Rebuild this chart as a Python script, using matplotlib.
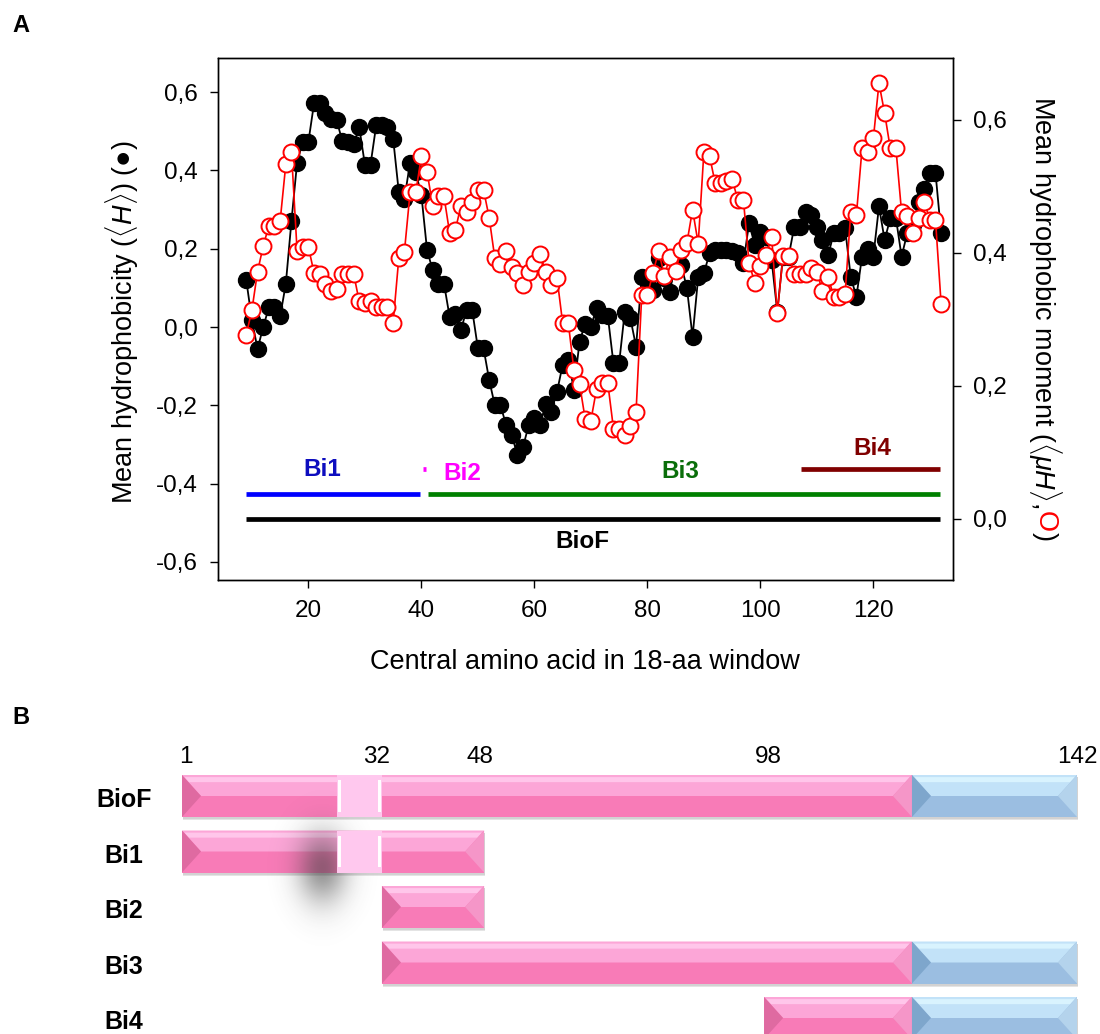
import numpy as np
import matplotlib
matplotlib.use("Agg")
import matplotlib.pyplot as plt
from matplotlib.patches import Polygon, Rectangle

plt.rcParams['font.family'] = ['Liberation Sans', 'DejaVu Sans']
plt.rcParams['mathtext.fontset'] = 'custom'
plt.rcParams['mathtext.rm'] = 'Liberation Sans'
plt.rcParams['mathtext.it'] = 'Liberation Sans:italic'
plt.rcParams['mathtext.bf'] = 'Liberation Sans:bold'

# ---------------- data: panel A ----------------
window_center = np.arange(9, 133)
hydrophobicity = [
    0.12, 0.018, -0.056, 0.0, 0.05, 0.05, 0.027, 0.11, 0.27, 0.42,
    0.473, 0.473, 0.571, 0.571, 0.547, 0.53, 0.528, 0.475, 0.473, 0.467,
    0.51, 0.415, 0.415, 0.515, 0.516, 0.512, 0.481, 0.345, 0.328, 0.42,
    0.395, 0.337, 0.197, 0.145, 0.111, 0.111, 0.026, 0.032, -0.007, 0.043,
    0.043, -0.054, -0.054, -0.135, -0.2, -0.2, -0.25, -0.276, -0.327, -0.306,
    -0.25, -0.233, -0.25, -0.196, -0.216, -0.166, -0.097, -0.085, -0.16, -0.037,
    0.009, 0.001, 0.048, 0.03, 0.028, -0.093, -0.093, 0.039, 0.022, -0.05,
    0.128, 0.12, 0.095, 0.176, 0.125, 0.09, 0.17, 0.158, 0.1, -0.025,
    0.128, 0.137, 0.188, 0.197, 0.197, 0.197, 0.195, 0.188, 0.163, 0.265,
    0.21, 0.243, 0.23, 0.17, 0.039, 0.18, 0.18, 0.256, 0.256, 0.295,
    0.287, 0.256, 0.222, 0.184, 0.239, 0.239, 0.252, 0.128, 0.077, 0.18,
    0.2, 0.18, 0.308, 0.222, 0.278, 0.278, 0.18, 0.24, 0.26, 0.318,
    0.352, 0.394, 0.394, 0.24]
hydrophobic_moment = [
    0.277, 0.314, 0.372, 0.41, 0.441, 0.441, 0.448, 0.533, 0.552, 0.403,
    0.409, 0.409, 0.37, 0.369, 0.353, 0.343, 0.345, 0.369, 0.369, 0.369,
    0.327, 0.325, 0.327, 0.319, 0.319, 0.318, 0.295, 0.392, 0.402, 0.491,
    0.491, 0.545, 0.522, 0.471, 0.485, 0.485, 0.43, 0.434, 0.471, 0.461,
    0.477, 0.495, 0.495, 0.453, 0.392, 0.384, 0.403, 0.379, 0.37, 0.352,
    0.371, 0.385, 0.398, 0.371, 0.352, 0.363, 0.295, 0.295, 0.224, 0.203,
    0.15, 0.148, 0.195, 0.204, 0.204, 0.136, 0.136, 0.126, 0.14, 0.161,
    0.336, 0.336, 0.37, 0.403, 0.366, 0.394, 0.373, 0.405, 0.415, 0.465,
    0.414, 0.551, 0.546, 0.505, 0.505, 0.508, 0.511, 0.48, 0.48, 0.385,
    0.355, 0.38, 0.397, 0.424, 0.309, 0.395, 0.395, 0.369, 0.369, 0.369,
    0.378, 0.372, 0.342, 0.364, 0.334, 0.333, 0.338, 0.461, 0.457, 0.557,
    0.552, 0.572, 0.655, 0.61, 0.557, 0.557, 0.461, 0.456, 0.43, 0.452,
    0.477, 0.45, 0.45, 0.323]

# fragment bars in panel A (central-residue ranges)
seg_names = ["Bi1", "Bi2", "Bi3", "Bi4", "BioF"]
seg_start = [9, 40.2, 41.1, 107.2, 9]
seg_end = [39.8, 40.8, 131.8, 131.8, 131.8]
seg_level = [-0.427, -0.363, -0.427, -0.363, -0.49]
seg_colors = ["#0000ff", "#ff00ff", "#008000", "#800000", "#000000"]
seg_text_colors = ["#0d0dbf", "#ff00ff", "#0a6e0a", "#800000", "#000000"]
seg_label_x = [22.5, 47.3, 85.8, 119.8, 68.5]
seg_label_y = [-0.363, -0.373, -0.37, -0.31, -0.547]

left_ticks = [-0.6, -0.4, -0.2, 0.0, 0.2, 0.4, 0.6]
right_ticks = [0.0, 0.2, 0.4, 0.6]
x_ticks = [20, 40, 60, 80, 100, 120]

# ---------------- data: panel B ----------------
frag_names = ["BioF", "Bi1", "Bi2", "Bi3", "Bi4"]
# schematic positions (drawing is not to scale in the original)
frag_start = [1, 1, 32.5, 32.5, 92.7]
frag_end = [142, 48.6, 48.6, 142, 142]
domain_split = 116          # pink -> blue boundary in schematic units
light_box = (25.4, 32.5)    # light segment on BioF and Bi1
light_rows = [0, 1]
res_labels = ["1", "32", "48", "98", "142"]
res_label_pos = [1.6, 31.7, 47.9, 93.3, 142]

# ---------------- figure ----------------
W, H = 1100, 1034
fig = plt.figure(figsize=(W / 100, H / 100), dpi=100)

L, R, T, B = 218, 953, 58, 580
ax = fig.add_axes([L / W, 1 - B / H, (R - L) / W, (B - T) / H])
ax2 = ax.twinx()

ax.plot(window_center, hydrophobicity, '-', color='black', lw=1.3, zorder=2)
ax.plot(window_center, hydrophobicity, 'o', color='black', ms=11.5, mec='black', zorder=3)
ax2.plot(window_center, hydrophobic_moment, '-', color='red', lw=1.2, zorder=2)
ax2.plot(window_center, hydrophobic_moment, 'o', mfc='white', mec='red', mew=1.4, ms=11.5, zorder=3)

for s, e, lv, c in zip(seg_start, seg_end, seg_level, seg_colors):
    ax.plot([s, e], [lv, lv], color=c, lw=3.4, solid_capstyle='butt', zorder=1)
for n, x, y, c in zip(seg_names, seg_label_x, seg_label_y, seg_text_colors):
    ax.text(x, y, n, color=c, fontsize=17.5, fontweight='bold', ha='center', va='center')

ax.set_xlim(4.0, 134.1)
ax.set_ylim(-0.646, 0.687)
ax2.set_ylim(-0.0917, 0.693)
ax.set_xticks(x_ticks)
ax.set_xticklabels([str(t) for t in x_ticks])
ax.set_yticks(left_ticks)
ax.set_yticklabels([f"{t:.1f}".replace('.', ',') for t in left_ticks])
ax2.set_yticks(right_ticks)
ax2.set_yticklabels([f"{t:.1f}".replace('.', ',') for t in right_ticks])
for a in (ax, ax2):
    a.tick_params(direction='out', length=5.5, width=1, labelsize=17.5, pad=9)
    for sp in a.spines.values():
        sp.set_linewidth(1.0)

fig.text(585 / W, 1 - 662 / H, "Central amino acid in 18-aa window", fontsize=19.5,
         ha='center', va='center')
fig.text(122 / W, 1 - 322 / H, r"Mean hydrophobicity ($\langle\mathit{H}\rangle$) (●)",
         rotation=90, ha='center', va='center', fontsize=19.5)

# right label, built in pieces so that the circle can be red
t1 = fig.text(1045 / W, 1 - 96 / H, r"Mean hydrophobic moment ($\langle\mu\mathit{H}\rangle$, ",
              rotation=-90, ha='center', va='top', fontsize=19.5)
fig.canvas.draw()
rend = fig.canvas.get_renderer()
bb = t1.get_window_extent(rend)
t2 = fig.text(1045 / W, bb.y0 / H, "O", color='red', rotation=-90, ha='center', va='top', fontsize=19.5)
bb2 = t2.get_window_extent(rend)
fig.text(1045 / W, bb2.y0 / H, ")", rotation=-90, ha='center', va='top', fontsize=19.5)

fig.text(12 / W, 1 - 25 / H, "A", fontsize=17, fontweight='bold', va='center')
fig.text(12 / W, 1 - 717 / H, "B", fontsize=17, fontweight='bold', va='center')

# ---------------- panel B ----------------
axb = fig.add_axes([0, 0, 1, 334 / H])
px_per_res = (1077 - 182) / 141.0
row_px = 55.5
axb.axis('off')

bar_h = 42 / row_px
bev = 19 / px_per_res

PINK = dict(base='#f87bb7', top='#fca6d7', hl='#ffc6ea', left='#df6aa1', right='#f596c8')
BLUE = dict(base='#9bbee1', top='#c2e2f8', hl='#d9f3fe', left='#7ea6cc', right='#b4d3ec')


def bevel_bar(a, x0, x1, yc, pal, z=2):
    top = yc - bar_h / 2
    bot = yc + bar_h / 2
    mid = top + 0.5 * bar_h
    # soft drop shadow
    for k, c in enumerate(['#e4e4e4', '#d2d2d2']):
        a.add_patch(Rectangle((x0 + 0.15, top + (3 - k) / row_px), x1 - x0, bar_h,
                              color=c, lw=0, zorder=z - 0.5 + 0.01 * k))
    a.add_patch(Rectangle((x0, top), x1 - x0, bar_h, color=pal['base'], lw=0, zorder=z))
    a.add_patch(Polygon([(x0, top), (x1, top), (x1 - bev, mid), (x0 + bev, mid)], closed=True,
                        color=pal['top'], lw=0, zorder=z + 0.1))
    a.add_patch(Polygon([(x0 + 0.4, top + 0.05 * bar_h), (x1 - 0.4, top + 0.05 * bar_h),
                         (x1 - 1.1, top + 0.17 * bar_h), (x0 + 1.1, top + 0.17 * bar_h)], closed=True,
                        color=pal['hl'], lw=0, zorder=z + 0.15))
    a.add_patch(Polygon([(x0, top), (x0 + bev, mid), (x0, bot)], closed=True,
                        color=pal['left'], lw=0, zorder=z + 0.2))
    a.add_patch(Polygon([(x1, top), (x1 - bev, mid), (x1, bot)], closed=True,
                        color=pal['right'], lw=0, zorder=z + 0.2))


for i, (name, s, e) in enumerate(zip(frag_names, frag_start, frag_end)):
    yc = i
    if e > domain_split:
        bevel_bar(axb, s, domain_split, yc, PINK)
        bevel_bar(axb, domain_split, e, yc, BLUE)
    else:
        bevel_bar(axb, s, e, yc, PINK)
    axb.text(1 - (182 - 124) / px_per_res, yc + 0.08, name, fontsize=18, fontweight='bold',
             ha='center', va='center')

for r in light_rows:
    x0, x1 = light_box
    top = r - bar_h / 2
    axb.add_patch(Rectangle((x0, top), x1 - x0, bar_h, color='#ffc8ee', lw=0, zorder=3))
    for xx in (x0 + 0.45, x1 - 0.45):
        axb.add_patch(Rectangle((xx - 0.25, top + 0.12 * bar_h), 0.5, 0.76 * bar_h,
                                color='white', lw=0, zorder=3.1))

# blurred shadow blob
gx = np.linspace(-4, 4, 80)
gy = np.linspace(-4, 4, 160)
GX, GY = np.meshgrid(gx, gy)
alpha = 0.55 * np.exp(-(GX ** 2 + GY ** 2) / 2.0)
img = np.zeros((160, 80, 4))
img[..., :3] = 0.25
img[..., 3] = alpha
cx = 1 + (322 - 182) / px_per_res
axb.imshow(img, extent=(cx - 4 * 2.8, cx + 4 * 2.8, 1.3 + 4 * 0.45, 1.3 - 4 * 0.45),
           aspect='auto', zorder=2.9, interpolation='bilinear')
axb.set_xlim(1 - 182 / px_per_res, 1 + (W - 182) / px_per_res)
axb.set_ylim((1034 - 796) / row_px, (700 - 796) / row_px)

for lab, pos in zip(res_labels, res_label_pos):
    axb.text(pos, (757 - 796) / row_px, lab, fontsize=17.5, ha='center', va='center')

fig.savefig("out.png", dpi=100)
